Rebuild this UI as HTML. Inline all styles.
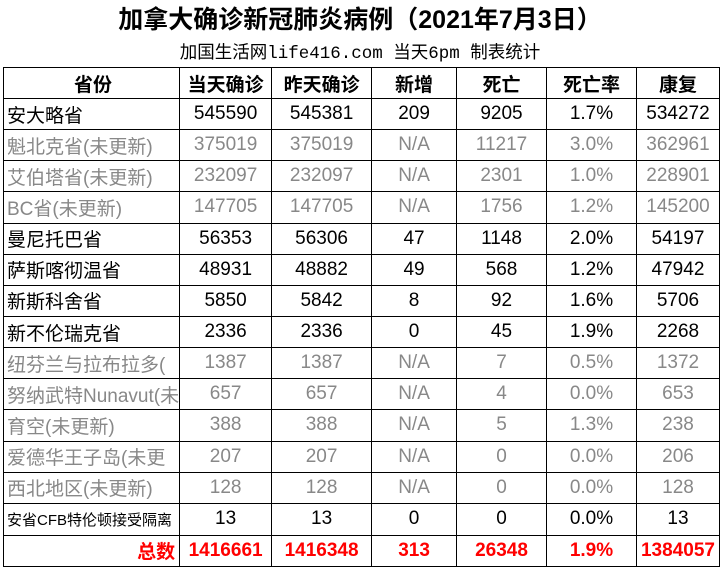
<!DOCTYPE html>
<html><head><meta charset="utf-8"><style>
body{margin:0;background:#fff;width:720px;height:582px;overflow:hidden;font-family:"Liberation Sans","Noto Sans CJK SC",sans-serif;}
.t{position:absolute;left:0;width:720px;text-align:center;top:0px;font-size:25px;font-weight:bold;color:#000;}
.s{position:absolute;left:0;width:720px;text-align:center;top:39px;font-size:17.5px;font-family:"Liberation Mono","Noto Sans CJK SC",monospace;}
table{position:absolute;left:3px;top:67px;border-collapse:collapse;table-layout:fixed;}
td{border:1.5px solid #000;height:30.15px;padding:0;text-align:center;font-size:19px;white-space:nowrap;overflow:hidden;}
td:first-child{text-align:left;padding-left:3px;}
tr.h td{font-weight:bold;font-size:19px;height:30px;}
tr.g td{color:#888;}
tr.r td{color:#f00;font-weight:bold;font-size:19px;}
</style></head><body>
<div class="t">加拿大确诊新冠肺炎病例（2021年7月3日）</div>
<div class="s">加国生活网life416.com 当天6pm 制表统计</div>
<table>
<colgroup><col style="width:175px"><col style="width:92px"><col style="width:100px"><col style="width:85px"><col style="width:90px"><col style="width:90px"><col style="width:83px"></colgroup>
<tr class="h"><td style="text-align:center">省份</td><td>当天确诊</td><td>昨天确诊</td><td>新增</td><td>死亡</td><td>死亡率</td><td>康复</td></tr>
<tr><td>安大略省</td><td>545590</td><td>545381</td><td>209</td><td>9205</td><td>1.7%</td><td>534272</td></tr>
<tr class="g"><td>魁北克省(未更新)</td><td>375019</td><td>375019</td><td>N/A</td><td>11217</td><td>3.0%</td><td>362961</td></tr>
<tr class="g"><td>艾伯塔省(未更新)</td><td>232097</td><td>232097</td><td>N/A</td><td>2301</td><td>1.0%</td><td>228901</td></tr>
<tr class="g"><td>BC省(未更新)</td><td>147705</td><td>147705</td><td>N/A</td><td>1756</td><td>1.2%</td><td>145200</td></tr>
<tr><td>曼尼托巴省</td><td>56353</td><td>56306</td><td>47</td><td>1148</td><td>2.0%</td><td>54197</td></tr>
<tr><td>萨斯喀彻温省</td><td>48931</td><td>48882</td><td>49</td><td>568</td><td>1.2%</td><td>47942</td></tr>
<tr><td>新斯科舍省</td><td>5850</td><td>5842</td><td>8</td><td>92</td><td>1.6%</td><td>5706</td></tr>
<tr><td>新不伦瑞克省</td><td>2336</td><td>2336</td><td>0</td><td>45</td><td>1.9%</td><td>2268</td></tr>
<tr class="g"><td>纽芬兰与拉布拉多(</td><td>1387</td><td>1387</td><td>N/A</td><td>7</td><td>0.5%</td><td>1372</td></tr>
<tr class="g"><td>努纳武特Nunavut(未</td><td>657</td><td>657</td><td>N/A</td><td>4</td><td>0.0%</td><td>653</td></tr>
<tr class="g"><td>育空(未更新)</td><td>388</td><td>388</td><td>N/A</td><td>5</td><td>1.3%</td><td>238</td></tr>
<tr class="g"><td>爱德华王子岛(未更</td><td>207</td><td>207</td><td>N/A</td><td>0</td><td>0.0%</td><td>206</td></tr>
<tr class="g"><td>西北地区(未更新)</td><td>128</td><td>128</td><td>N/A</td><td>0</td><td>0.0%</td><td>128</td></tr>
<tr><td style="font-size:15px;height:31px">安省CFB特伦顿接受隔离</td><td>13</td><td>13</td><td>0</td><td>0</td><td>0.0%</td><td>13</td></tr>
<tr class="r"><td style="text-align:right;padding-right:4px">总数</td><td>1416661</td><td>1416348</td><td>313</td><td>26348</td><td>1.9%</td><td>1384057</td></tr>
</table>
</body></html>
